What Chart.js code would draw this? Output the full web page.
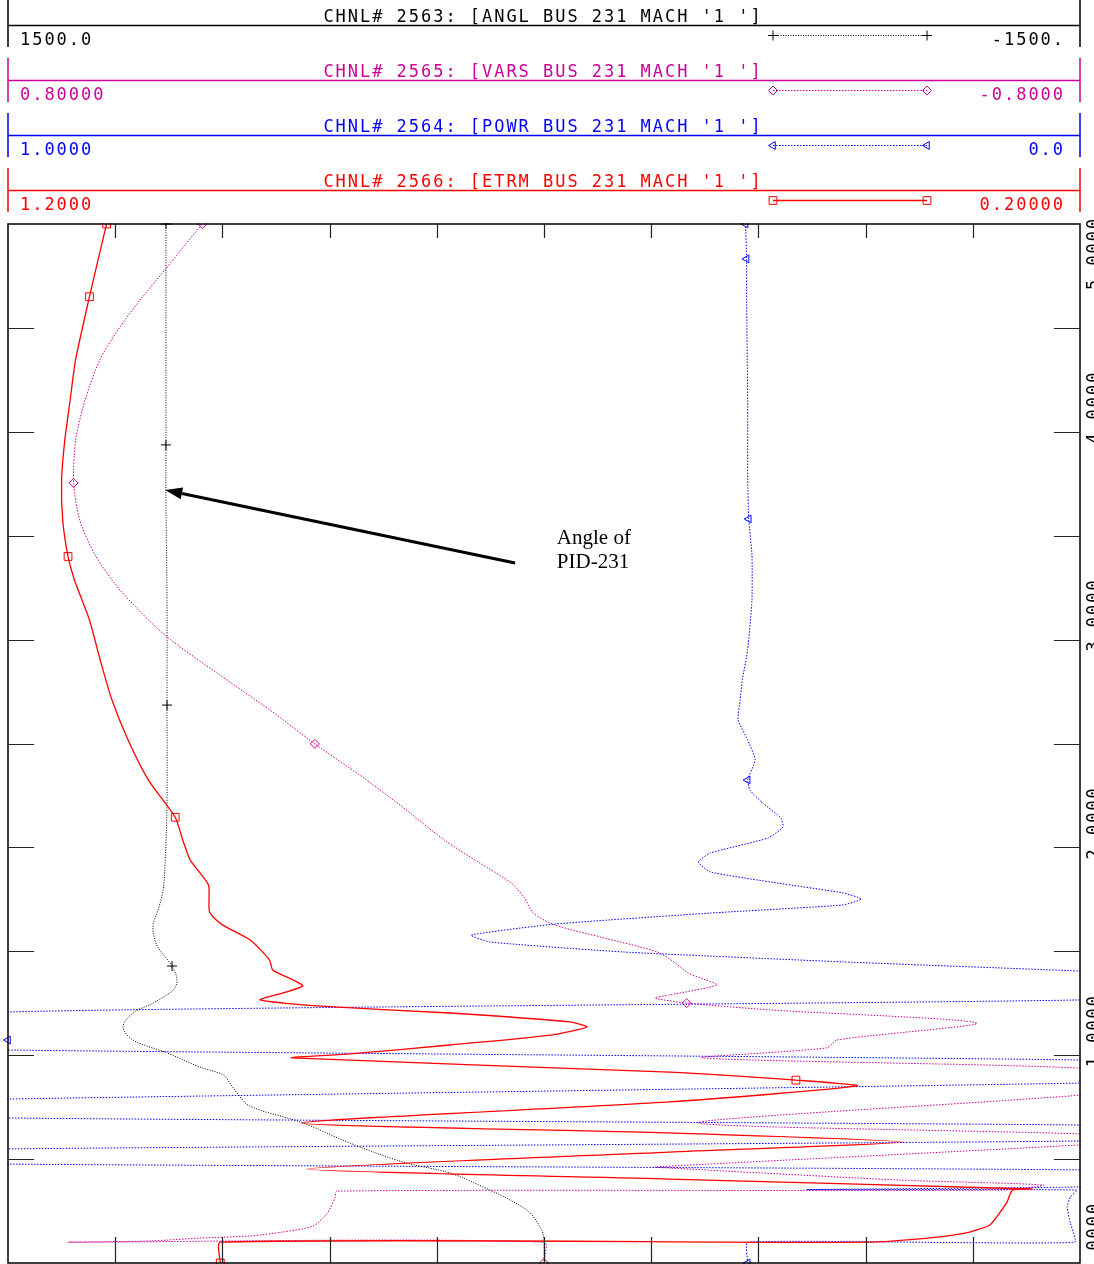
<!DOCTYPE html>
<html><head><meta charset="utf-8">
<script src="https://cdn.jsdelivr.net/npm/chart.js@4.4.1/dist/chart.umd.min.js"></script>
<style>html,body{margin:0;padding:0;background:#fff;overflow:hidden}canvas{display:block}</style>
</head><body>
<canvas id="c" width="1094" height="1264"></canvas>
<script>
// ---------- channel descriptions ----------
const channelTitles = ["CHNL# 2563: [ANGL BUS 231 MACH '1 ']", "CHNL# 2565: [VARS BUS 231 MACH '1 ']",
                       "CHNL# 2564: [POWR BUS 231 MACH '1 ']", "CHNL# 2566: [ETRM BUS 231 MACH '1 ']"];
const channelLeftLabels  = ["1500.0", "0.80000", "1.0000", "1.2000"];
const channelRightLabels = ["-1500.", "-0.8000", "0.0", "0.20000"];
const channelMax = [1500, 0.8, 1.0, 1.2];
const channelMin = [-1500, -0.8, 0.0, 0.2];
const timeLabels = ["0.0000", "1.0000", "2.0000", "3.0000", "4.0000", "5.0000"];
const timeMin = 0, timeMax = 5;

// ---------- series (time in s, value in channel units) ----------
const anglTime = [0,0.1,0.144,0.173,0.241,0.303,0.366,0.433,0.486,0.577,0.674,0.755,0.818,0.866,0.905,0.943,1.011,1.073,1.136,1.203,1.251,1.314,1.362,1.429,1.506,1.554,1.627,1.699,1.795,1.939,2.228,2.685,3.191,3.672,3.937,4.394,5.0];
const anglVal  = [0,0,3,11,39,95,171,263,395,543,674,823,859,879,898,963,1055,1150,1178,1150,1094,1038,1027,1041,1075,1089,1094,1080,1066,1060,1055,1055,1055,1058,1058,1058,1058];
const anglMarks = [1.429, 2.685, 3.937, 5.0];

const varsTime = [0,0.1,0.1,0.106,0.120,0.130,0.149,0.178,0.236,0.313,0.346,0.351,0.375,0.399,0.457,0.462,0.568,0.594,0.621,0.674,0.784,0.808,0.870,0.938,0.987,1.035,1.073,1.155,1.218,1.251,1.275,1.290,1.338,1.362,1.396,1.444,1.497,1.569,1.627,1.684,1.761,1.829,1.925,2.036,2.204,2.348,2.498,2.661,2.830,3.022,3.239,3.407,3.576,3.754,3.961,4.153,4.346,4.490,4.634,4.779,4.899,5.0];
const varsVal  = [0,0,0.708,0.588,0.513,0.439,0.390,0.345,0.324,0.312,0.309,-0.681,-0.745,-0.531,-0.188,-0.166,-0.8,-0.9,-0.8,-0.23,-0.696,-0.8,-0.98,-0.8,-0.237,-0.422,-0.437,-0.646,-0.337,-0.213,-0.166,-0.188,-0.258,-0.242,-0.215,-0.196,-0.169,-0.084,-0.016,0.016,0.030,0.049,0.096,0.149,0.215,0.275,0.342,0.409,0.484,0.566,0.633,0.670,0.693,0.702,0.699,0.685,0.663,0.636,0.603,0.566,0.536,0.510];
const varsMarks = [0, 1.251, 2.498, 3.754, 5.0];

const powrTime = [0,0.1,0.1,0.192,0.269,0.318,0.351,0.353,0.366,0.41,0.448,0.476,0.51,0.549,0.587,0.625,0.664,0.698,0.745,0.789,0.866,0.92,0.977,1.025,1.073,1.208,1.266,1.34,1.405,1.449,1.497,1.545,1.578,1.631,1.684,1.723,1.752,1.781,1.829,1.882,1.930,1.973,2.045,2.098,2.141,2.214,2.276,2.324,2.421,2.517,2.613,2.709,2.806,2.950,3.191,3.407,3.580,3.768,4.153,4.634,4.832,5.0];
const powrVal  = [0.310,0.310,0.005,0.009,0.012,0.009,0.003,0.255,0.0,-0.25,0.0,1.0,1.3,1.0,0.0,-0.3,0.0,1.0,1.3,1.0,0.0,-0.3,0.0,1.0,1.35,1.0,0.0,-0.3,0.0,0.221,0.427,0.551,0.568,0.490,0.345,0.221,0.204,0.221,0.283,0.345,0.356,0.345,0.291,0.277,0.279,0.296,0.308,0.310,0.303,0.310,0.319,0.317,0.315,0.310,0.306,0.306,0.309,0.310,0.310,0.311,0.311,0.312];
const powrMarks = [0, 2.324, 3.580, 4.832, 5.0];
// marker drawn where the trace leaves the scale (clipped to the left limit)
const powrEdgeMarkTime = [1.073];
const powrEdgeMarkVal  = [1.0];

const etrmTime = [0,0.1,0.1,0.125,0.149,0.183,0.241,0.294,0.351,0.356,0.404,0.452,0.534,0.582,0.626,0.674,0.775,0.852,0.88,0.919,0.987,1.006,1.049,1.097,1.136,1.160,1.203,1.237,1.266,1.299,1.333,1.362,1.410,1.458,1.554,1.627,1.689,1.819,1.939,2.036,2.145,2.324,2.517,2.709,2.902,3.094,3.287,3.40,3.576,3.768,3.961,4.153,4.346,4.65,4.827,5.0];
const etrmVal  = [1.002,1.002,0.399,0.333,0.303,0.284,0.275,0.268,0.263,0.245,0.583,0.921,0.583,0.365,0.583,0.926,0.583,0.408,0.465,0.583,0.935,0.881,0.788,0.694,0.660,0.676,0.788,0.912,0.965,0.944,0.925,0.934,0.953,0.956,0.974,1.000,1.012,1.013,1.030,1.037,1.044,1.069,1.088,1.103,1.114,1.124,1.138,1.144,1.149,1.150,1.147,1.142,1.137,1.124,1.116,1.108];
const etrmMarks = [0, 0.88, 2.145, 3.40, 4.65, 5.0];

// annotation (angle units / seconds)
const annoLines = ["Angle of", "PID-231"];
const annoAngle = -36, annoTimes = [3.46, 3.345];
const arrowFrom = {angle: 81, time: 3.369};
const arrowTo = {angle: 1060, time: 3.72};

// ---------- styles ----------
const COL = ['#000000', '#cc0099', '#0000ff', '#ff0000'];
const mstyle = [
  {pointStyle: 'cross', radius: 5, rotation: 0},
  {pointStyle: 'rectRot', radius: 4.5, rotation: 0},
  {pointStyle: 'triangle', radius: 4.5, rotation: -90},
  {pointStyle: 'rect', radius: 5.5, rotation: 0}
];
const dashes = [[1, 1.5], [1.5, 1.5], [1.5, 1.5], []];
const axisIds = ['xA', 'xV', 'xP', 'xE'];

function mkData(ts, vs) { return ts.map((t, i) => ({x: vs[i], y: t})); }
function markIdx(ts, marks) { return marks.map(m => ts.indexOf(m)); }

function mkSet(k, ts, vs, marks, tension, width) {
  const idx = markIdx(ts, marks);
  return {
    data: mkData(ts, vs), xAxisID: axisIds[k], yAxisID: 'y',
    showLine: true, borderColor: COL[k], borderWidth: width, borderDash: dashes[k],
    tension: tension, clip: 1,
    pointStyle: mstyle[k].pointStyle, pointRotation: mstyle[k].rotation,
    pointRadius: c => idx.includes(c.dataIndex) ? mstyle[k].radius : 0,
    pointBorderColor: COL[k], pointBackgroundColor: 'rgba(0,0,0,0)', pointBorderWidth: 1,
    pointHoverRadius: 0
  };
}

const edgeSet = {
  data: mkData(powrEdgeMarkTime, powrEdgeMarkVal), xAxisID: 'xP', yAxisID: 'y',
  showLine: false, clip: false, pointStyle: 'triangle', pointRotation: -90, pointRadius: 4.5,
  pointBorderColor: COL[2], pointBackgroundColor: 'rgba(0,0,0,0)', pointBorderWidth: 1, pointHoverRadius: 0
};

const datasets = [
  mkSet(3, etrmTime, etrmVal, etrmMarks, 0.2, 1.3),
  mkSet(0, anglTime, anglVal, anglMarks, 0.35, 1),
  mkSet(1, varsTime, varsVal, varsMarks, 0.25, 1),
  mkSet(2, powrTime, powrVal, powrMarks, 0.15, 1),
  edgeSet
];

const scales = { y: {type: 'linear', min: timeMin, max: timeMax, display: false} };
axisIds.forEach((id, k) => {
  scales[id] = {type: 'linear', axis: 'x', position: 'bottom', min: channelMin[k], max: channelMax[k], reverse: true, display: false};
});

const MONO = '"DejaVu Sans Mono", monospace';
function monoText(ctx, s, x, y, pitch, align) {
  const w = pitch * s.length;
  const x0 = align === 'center' ? x - w / 2 : align === 'right' ? x - w : x;
  ctx.textAlign = 'center';
  for (let i = 0; i < s.length; i++) ctx.fillText(s[i], x0 + pitch * (i + 0.5), y);
}

const decor = {
  id: 'decor',
  afterDraw(chart) {
    const ctx = chart.ctx, a = chart.chartArea;
    const xA = chart.scales.xA, yS = chart.scales.y;
    ctx.save();
    // header blocks
    for (let k = 0; k < 4; k++) {
      const off = 55 * k;
      const top = k === 0 ? 0 : 3 + off, bot = 47 + off;
      ctx.strokeStyle = COL[k]; ctx.fillStyle = COL[k];
      ctx.lineWidth = 1.5; ctx.setLineDash([]);
      ctx.beginPath();
      ctx.moveTo(a.left, top); ctx.lineTo(a.left, bot);
      ctx.moveTo(a.right, top); ctx.lineTo(a.right, bot);
      ctx.moveTo(a.left, 25.5 + off); ctx.lineTo(a.right, 25.5 + off);
      ctx.stroke();
      ctx.font = '17px ' + MONO; ctx.textBaseline = 'alphabetic';
      monoText(ctx, channelTitles[k], 542, 22 + off, 12.2, 'center');
      monoText(ctx, channelLeftLabels[k], 19, 45 + off, 12.2, 'left');
      monoText(ctx, channelRightLabels[k], 1064, 45 + off, 12.2, 'right');
      // legend sample
      const ly = 35.5 + off;
      ctx.lineWidth = k === 3 ? 1.3 : 1; ctx.setLineDash(dashes[k]);
      ctx.beginPath(); ctx.moveTo(773, ly); ctx.lineTo(927, ly); ctx.stroke();
      ctx.setLineDash([]); ctx.lineWidth = 1; ctx.fillStyle = 'rgba(0,0,0,0)';
      [773, 927].forEach(px => Chart.helpers.drawPoint(ctx, {pointStyle: mstyle[k].pointStyle, rotation: mstyle[k].rotation, radius: mstyle[k].radius, borderWidth: 1}, px, ly));
    }
    // frame
    ctx.strokeStyle = '#000'; ctx.lineWidth = 1.5; ctx.setLineDash([]);
    ctx.strokeRect(a.left, a.top, a.right - a.left, a.bottom - a.top);
    // ticks
    ctx.lineWidth = 1.2; ctx.strokeStyle = '#222';
    ctx.beginPath();
    for (let v = -1200; v <= 1200; v += 300) {
      const px = Math.round(xA.getPixelForValue(v)) + 0.5;
      ctx.moveTo(px, a.top); ctx.lineTo(px, a.top + 14);
      ctx.moveTo(px, a.bottom); ctx.lineTo(px, a.bottom - 26);
    }
    for (let t = 0.5; t < timeMax; t += 0.5) {
      const py = Math.round(yS.getPixelForValue(t)) + 0.5;
      ctx.moveTo(a.left, py); ctx.lineTo(a.left + 26, py);
      ctx.moveTo(a.right, py); ctx.lineTo(a.right - 26, py);
    }
    ctx.stroke();
    // rotated time labels at right edge
    ctx.fillStyle = '#000'; ctx.font = '17px ' + MONO;
    timeLabels.forEach((lab, i) => {
      const py = yS.getPixelForValue(i);
      let start = py + 13;
      if (start - lab.length * 12.2 < a.top) start = a.top + 67;
      ctx.save(); ctx.translate(1099, start); ctx.rotate(-Math.PI / 2);
      monoText(ctx, lab, 0, 0, 12.2, 'left');
      ctx.restore();
    });
    // annotation
    ctx.fillStyle = '#000'; ctx.font = '21px "Liberation Serif", "Times New Roman", serif';
    ctx.textAlign = 'left';
    annoLines.forEach((s, i) => ctx.fillText(s, xA.getPixelForValue(annoAngle), yS.getPixelForValue(annoTimes[i])));
    const x1 = xA.getPixelForValue(arrowFrom.angle), y1 = yS.getPixelForValue(arrowFrom.time);
    const x2 = xA.getPixelForValue(arrowTo.angle), y2 = yS.getPixelForValue(arrowTo.time);
    const ang = Math.atan2(y2 - y1, x2 - x1), hl = 17, hw = 6;
    const bx = x2 - hl * Math.cos(ang), by = y2 - hl * Math.sin(ang);
    ctx.strokeStyle = '#000'; ctx.lineWidth = 3;
    ctx.beginPath(); ctx.moveTo(x1, y1); ctx.lineTo(bx, by); ctx.stroke();
    ctx.beginPath(); ctx.moveTo(x2, y2);
    ctx.lineTo(bx + hw * Math.sin(ang), by - hw * Math.cos(ang));
    ctx.lineTo(bx - hw * Math.sin(ang), by + hw * Math.cos(ang));
    ctx.closePath(); ctx.fill();
    ctx.restore();
  }
};

new Chart(document.getElementById('c'), {
  type: 'scatter',
  data: {datasets},
  options: {
    responsive: false, animation: false, devicePixelRatio: 1,
    layout: {autoPadding: false, padding: {left: 8, right: 14, top: 224, bottom: 1}},
    elements: {line: {capBezierPoints: false}},
    scales,
    plugins: {legend: {display: false}, tooltip: {enabled: false}}
  },
  plugins: [decor]
});
</script>
</body></html>
